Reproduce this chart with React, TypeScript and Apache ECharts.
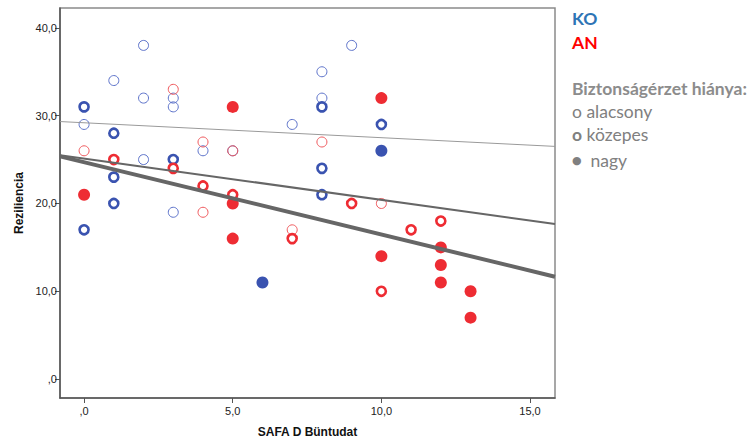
import React, { useEffect, useRef } from "react";
import * as echarts from "echarts";

// Data (x = SAFA D Büntudat, y = Reziliencia)
const koLow: number[][] = [[2, 38], [1, 34], [2, 32], [3, 32], [3, 31], [0, 29], [7, 29], [4, 26], [5, 26], [2, 25], [3, 19], [9, 38], [8, 35], [8, 32]];
const koMid: number[][] = [[0, 31], [1, 28], [3, 25], [1, 23], [1, 20], [0, 17], [8, 31], [10, 29], [8, 24], [8, 21]];
const koHigh: number[][] = [[6, 11], [10, 26]];
const anLow: number[][] = [[3, 33], [4, 27], [0, 26], [5, 26], [4, 19], [7, 17], [8, 27], [10, 20]];
const anMid: number[][] = [[1, 25], [3, 24], [4, 22], [5, 21], [7, 16], [9, 20], [12, 18], [11, 17], [10, 10]];
const anHigh: number[][] = [[0, 21], [5, 31], [5, 20], [5, 16], [10, 32], [10, 14], [12, 15], [12, 13], [12, 11], [13, 10], [13, 7]];

// Fit lines (endpoints at the axis range)
const fitThin: number[][] = [[-0.81, 29.33], [15.84, 26.5]];
const fitMid: number[][] = [[-0.81, 25.5], [15.84, 17.67]];
const fitThick: number[][] = [[-0.81, 25.37], [15.84, 11.66]];

const xTicks = [0, 5, 10, 15];
const yTicks = [0, 10, 20, 30, 40];

const BLUE = "#3A53B0";
const BLUE_LIGHT = "#5C72CA";
const RED = "#EE2C33";
const RED_LIGHT = "#F0585C";

const fmt = (v: number) => (v === 0 ? ",0" : v.toFixed(1).replace(".", ","));

export default function App() {
  const ref = useRef<HTMLDivElement>(null);
  useEffect(() => {
    if (!ref.current) return;
    const chart = echarts.init(ref.current, undefined, { renderer: "svg" });
    const thin = (data: number[][], c: string) => ({
      type: "scatter", data, symbol: "circle", symbolSize: 10, z: 2,
      itemStyle: { color: "rgba(255,255,255,0)", borderColor: c, borderWidth: 1, opacity: 1 },
    });
    const mid = (data: number[][], c: string) => ({
      type: "scatter", data, symbol: "circle", symbolSize: 9, z: 3,
      itemStyle: { color: "#fff", borderColor: c, borderWidth: 2.6, opacity: 1 },
    });
    const high = (data: number[][], c: string) => ({
      type: "scatter", data, symbol: "circle", symbolSize: 12, z: 3,
      itemStyle: { color: c, borderWidth: 0, opacity: 1 },
    });
    const line = (data: number[][], w: number, c: string) => ({
      type: "line", data, symbol: "none", z: 5,
      lineStyle: { width: w, color: c },
    });
    const tickFont = { fontFamily: "Liberation Sans", fontSize: 11, color: "#222" };
    chart.setOption({
      animation: false,
      grid: { left: 60, top: 8, right: 196, bottom: 42, show: true, borderColor: "#8a8a8a", borderWidth: 1.5 },
      xAxis: {
        type: "value", min: -0.81, max: 15.84,
        name: "SAFA D Büntudat", nameLocation: "middle", nameGap: 28,
        nameTextStyle: { fontFamily: "Liberation Sans", fontSize: 12, fontWeight: "bold", color: "#111" },
        splitLine: { show: false },
        axisLine: { onZero: false, lineStyle: { color: "#555", width: 1.5 } },
        axisTick: { show: true, length: 5, customValues: xTicks, lineStyle: { color: "#555" } },
        axisLabel: { ...tickFont, margin: 7, customValues: xTicks, formatter: fmt },
      },
      yAxis: {
        type: "value", min: -2.15, max: 42.26,
        name: "Reziliencia", nameLocation: "middle", nameGap: 34, nameRotate: 90,
        nameTextStyle: { fontFamily: "Liberation Sans", fontSize: 12, fontWeight: "bold", color: "#111" },
        splitLine: { show: false },
        axisLine: { show: true, onZero: false, lineStyle: { color: "#555", width: 1.5 } },
        axisTick: { show: true, length: 5, customValues: yTicks, lineStyle: { color: "#555" } },
        axisLabel: { ...tickFont, margin: 3, customValues: yTicks, formatter: fmt },
      },
      series: [
        thin(koLow, BLUE_LIGHT),
        thin(anLow, RED_LIGHT),
        mid(koMid, BLUE),
        mid(anMid, RED),
        high(koHigh, BLUE),
        high(anHigh, RED),
        line(fitThin, 1, "#9a9a9a"),
        line(fitMid, 2, "#666"),
        line(fitThick, 4, "#666"),
      ],
      graphic: [
        { type: "text", left: 572, top: 9, style: { text: "KO", font: "bold 17.5px Lato", fill: "#2E74B5" } },
        { type: "text", left: 572, top: 33, style: { text: "AN", font: "bold 17.5px Lato", fill: "#FF0000" } },
        { type: "text", left: 572, top: 79, style: { text: "Biztonságérzet hiánya:", font: "bold 17.5px Lato", fill: "#8C8C8C" } },
        { type: "text", left: 572, top: 102, style: { text: "o alacsony", font: "17.5px Lato", fill: "#808080" } },
        {
          type: "text", left: 572, top: 125,
          style: {
            text: "{b|o} közepes", font: "17.5px Lato", fill: "#808080",
            rich: { b: { font: "bold 17.5px Lato", fill: "#808080" } },
          },
        },
        {
          type: "text", left: 572, top: 151,
          style: {
            text: "{d|●}  nagy", font: "17.5px Lato", fill: "#808080",
            rich: { d: { font: "11px DejaVu Sans", fill: "#808080" } },
          },
        },
      ],
    });
    return () => chart.dispose();
  }, []);
  return <div ref={ref} style={{ width: 751, height: 443, position: "absolute", left: 0, top: 0 }} />;
}
